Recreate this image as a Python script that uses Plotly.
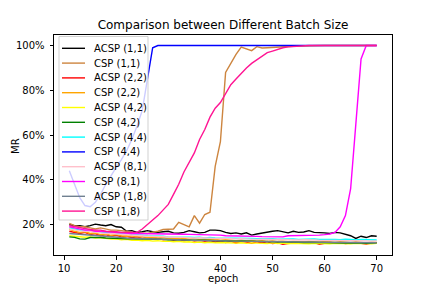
import plotly.graph_objects as go

epochs = list(range(11, 71))

names = ["ACSP (1,1)", "CSP (1,1)", "ACSP (2,2)", "CSP (2,2)", "ACSP (4,2)", "CSP (4,2)",
         "ACSP (4,4)", "CSP (4,4)", "ACSP (8,1)", "CSP (8,1)", "ACSP (1,8)", "CSP (1,8)"]
colors = ["#000000", "#CD853F", "#FF0000", "#FFA500", "#FFFF00", "#008000",
          "#00FFFF", "#0000FF", "#FFC0CB", "#FF00FF", "#708090", "#FF1493"]

acsp_1_1 = [20, 19.5, 19.5, 19, 19.5, 20.2, 19.8, 19.5, 20, 19, 18.8, 17, 17.3, 16.5, 16.8, 17.3, 16.8, 16.5, 16.8, 17,
            16.3, 16.1, 16.5, 17.3, 16.8, 16.3, 16.5, 17.5, 17.5, 17.3, 16.5, 16, 16.3, 15.8, 16.3, 15.3, 15.8, 16.3, 16.6, 17,
            17.3, 16.8, 16.3, 17, 16.5, 16.7, 17.3, 16.5, 16.5, 16.3, 16, 16.5, 16.3, 15.8, 15, 13.8, 14.8, 14.2, 15, 14.8]
csp_1_1 = [20.5, 19.5, 19, 19, 18.5, 18, 18.5, 18, 17.5, 17.5, 17.3, 17, 16.5, 16, 16.2, 16, 16.6, 17, 17.8, 18,
           18, 21, 20, 19, 24, 20.6, 24.5, 25.5, 46, 57, 88, 92, 96, 99.3, 98.5, 97.7, 99.5, 98.9, 99, 99.2,
           99.3, 99.5, 99.6, 99.7, 99.8, 99.9, 100, 100, 100, 100, 100, 100, 100, 100, 100, 100, 100, 100, 100, 100]
acsp_2_2 = [17, 16.5, 16, 16.5, 15.5, 16, 15, 15.5, 14.8, 15.2, 14.5, 14.8, 14.2, 14.5, 13.8, 14.2, 13.5, 13.8, 13.2, 13.5,
            13, 13.4, 12.8, 13.2, 12.6, 13, 12.5, 12.8, 12.2, 12.6, 12, 12.5, 11.8, 12.4, 12.2, 11.6, 12.3, 11.8, 12.4, 11.5,
            11.8, 11.2, 11.5, 12, 11.8, 12.2, 11.6, 12, 11.2, 11.8, 12.1, 11.7, 12, 11.5, 11.8, 12, 11.6, 11.3, 11.7, 11.9]
csp_2_2 = [18, 17, 16.5, 16.8, 16, 16.2, 15.5, 15.8, 15.2, 15.5, 15, 14.8, 15, 14.5, 14.6, 14.2, 14.4, 14, 14.2, 13.8,
           14, 13.6, 13.8, 13.5, 13.7, 13.3, 13.5, 13.2, 13.4, 13, 13.2, 13, 12.8, 13, 12.7, 12.9, 12.6, 12.8, 12.5, 12.7,
           12.4, 12.6, 12.3, 12.5, 12.4, 12.2, 12.5, 12.3, 12.1, 12.4, 12.2, 12, 12.3, 12.1, 11.9, 12.2, 12, 11.8, 12.1, 12]
acsp_4_2 = [15, 14.8, 14.5, 14.3, 14.5, 14, 14.2, 13.8, 13.5, 13.6, 13.2, 13.4, 13, 13.1, 12.8, 13, 12.6, 12.8, 12.5, 12.6,
            12.3, 12.5, 12.2, 12.3, 12, 12.2, 11.9, 12.1, 11.8, 12, 11.8, 11.9, 11.7, 11.9, 11.6, 11.8, 11.6, 11.7, 11.5, 11.8,
            11.5, 11.7, 11.4, 11.6, 11.5, 11.7, 11.4, 11.6, 11.5, 11.7, 11.4, 11.6, 11.5, 11.6, 11.4, 11.6, 11.5, 11.6, 11.4, 11.6]
csp_4_2 = [14.5, 14.3, 13.6, 13.5, 14.2, 14.3, 14.2, 14, 14, 13.8, 13.7, 13.6, 13.6, 13.5, 13.5, 13.4, 13.4, 13.3, 13.4, 13.2,
           13.3, 13.1, 13.2, 13, 13.1, 12.9, 13, 12.9, 12.8, 12.9, 12.7, 12.8, 12.6, 12.7, 12.5, 12.6, 12.5, 12.4, 12.5, 12.3,
           12.4, 12.2, 12.3, 12.1, 12.2, 12, 12.1, 12, 11.9, 12, 11.8, 11.9, 11.8, 11.7, 11.8, 11.6, 11.7, 11.6, 11.7, 11.8]
acsp_4_4 = [18.5, 18, 17.5, 17.5, 17, 16.8, 16.5, 16.5, 16.2, 16, 16, 15.8, 15.5, 15.5, 15.2, 15, 15, 14.8, 14.8, 14.5,
            14.5, 14.6, 14.3, 14.4, 14.2, 14.3, 14, 14.2, 14, 14, 14.1, 13.9, 14, 13.8, 14, 13.8, 13.7, 13.8, 13.6, 13.7,
            13.5, 13.6, 13.5, 13.6, 13.4, 13.5, 13.4, 13.6, 13.3, 13.4, 13.3, 13.4, 13.2, 13.5, 13.3, 13.1, 13.4, 13.2, 13, 13.1]
csp_4_4 = [44, 38, 32, 28.5, 28, 30, 33.5, 38, 42, 45.5, 49, 53, 58, 64, 71, 85, 99, 100, 100, 100,
           100, 100, 100, 100, 100, 100, 100, 100, 100, 100, 100, 100, 100, 100, 100, 100, 100, 100, 100, 100,
           100, 100, 100, 100, 100, 100, 100, 100, 100, 100, 100, 100, 100, 100, 100, 100, 100, 100, 100, 100]
acsp_8_1 = [18, 17.5, 17.2, 17, 17, 16.5, 16.2, 16, 16, 15.8, 15.5, 15.5, 15.2, 15, 15, 14.8, 14.8, 14.6, 14.5, 14.5,
            14.3, 14.4, 14.2, 14.2, 14, 14.1, 13.9, 14, 13.8, 13.9, 13.7, 13.8, 13.6, 13.7, 13.5, 13.6, 13.4, 13.5, 13.4, 13.3,
            13.4, 13.2, 13.3, 13.2, 13.1, 13.2, 13, 13.1, 13, 13, 12.9, 13, 12.8, 12.9, 12.8, 12.7, 12.8, 12.7, 12.6, 12.7]
csp_8_1 = [19, 18.5, 18, 17.5, 17.5, 17, 17, 16.8, 16.5, 16.5, 16.2, 16.2, 16, 16, 16, 16, 16, 16, 15.9, 15.8,
           15.8, 15.7, 15.7, 15.6, 15.6, 15.5, 15.5, 15.4, 15.4, 15.3, 15, 15, 14.9, 14.8, 14.8, 14.7, 14.7, 14.6, 14.5, 14.5,
           14.3, 14.5, 15, 15, 15, 15.2, 15.3, 15.3, 15.3, 15.5, 15.8, 16.5, 19, 24, 36, 65, 94, 100, 100, 100]
acsp_1_8 = [16, 15.8, 15.5, 15.3, 15.1, 15, 14.8, 14.6, 14.5, 14.3, 14.2, 14, 13.9, 13.8, 13.7, 13.6, 13.5, 13.4, 13.4, 13.3,
            13.2, 13.2, 13.1, 13, 13, 12.9, 12.9, 12.8, 12.8, 12.7, 12.7, 12.6, 12.6, 12.6, 12.5, 12.5, 12.5, 12.4, 12.4, 12.4,
            12.3, 12.3, 12.3, 12.2, 12.2, 12.2, 12.2, 12.1, 12.1, 12.1, 12.1, 12, 12, 12, 12, 11.9, 11.9, 11.9, 11.9, 11.9]
csp_1_8 = [19.5, 19, 18.5, 18, 17.8, 17.5, 17.5, 17, 17, 16.8, 16.5, 16.5, 16.8, 16.5, 18, 19.8, 22, 24, 26.5, 29,
           33.5, 38, 43.5, 48, 52, 58, 62.5, 68, 72, 74.5, 78.5, 82.5, 85, 87.5, 90, 92, 93.5, 95, 96.8, 97.5,
           98.3, 99, 99.4, 99.6, 99.8, 99.9, 100, 100, 100, 100, 100, 100, 100, 100, 100, 100, 100, 100, 100, 100]

series = [acsp_1_1, csp_1_1, acsp_2_2, csp_2_2, acsp_4_2, csp_4_2,
          acsp_4_4, csp_4_4, acsp_8_1, csp_8_1, acsp_1_8, csp_1_8]

x_ticks = [10, 20, 30, 40, 50, 60, 70]
y_ticks = [20, 40, 60, 80, 100]
y_tick_labels = ["20%", "40%", "60%", "80%", "100%"]

# The page body adds an 8px offset, so the figure is 8px smaller and everything
# is laid out in window pixels minus that offset.
OFF = 8
W, H = 436 - OFF, 291 - OFF
ML, MR, MT, MB = 54 - OFF, 436 - 392, 35 - OFF, 291 - 255
PW, PH = W - ML - MR, H - MT - MB
FONT = "DejaVu Sans"

fig = go.Figure()
for name, col, vals in zip(names, colors, series):
    fig.add_trace(go.Scatter(x=epochs, y=vals, mode="lines", name=name,
                             line=dict(color=col, width=1.4), showlegend=False))


def px(xw):
    return (xw - OFF - ML) / PW


def py(yw):
    return (H + OFF - MB - yw) / PH


shapes = []
annotations = []
# legend box (drawn like matplotlib's semi-transparent legend)
shapes.append(dict(type="rect", xref="paper", yref="paper", layer="above",
                   x0=px(59), x1=px(148), y0=py(220), y1=py(36.5),
                   fillcolor="rgba(255,255,255,0.8)", line=dict(color="rgba(204,204,204,0.9)", width=1)))
for i, (name, col) in enumerate(zip(names, colors)):
    yy = 48.3 + 14.8 * i
    shapes.append(dict(type="line", xref="paper", yref="paper", layer="above",
                       x0=px(62), x1=px(85), y0=py(yy), y1=py(yy),
                       line=dict(color=col, width=1.4)))
    annotations.append(dict(text=name, xref="paper", yref="paper", x=px(91.5), y=py(yy),
                            xanchor="left", yanchor="middle", showarrow=False,
                            font=dict(family=FONT, size=10, color="black")))

# axis titles
annotations.append(dict(text="epoch", xref="paper", yref="paper", x=px(223), y=py(278),
                        xanchor="center", yanchor="middle", showarrow=False,
                        font=dict(family=FONT, size=10, color="black")))
annotations.append(dict(text="MR", xref="paper", yref="paper", x=px(15), y=py(146),
                        xanchor="center", yanchor="middle", showarrow=False, textangle=-90,
                        font=dict(family=FONT, size=10, color="black")))

fig.update_layout(
    width=W, height=H,
    margin=dict(l=ML, r=MR, t=MT, b=MB, autoexpand=False),
    paper_bgcolor="white", plot_bgcolor="white",
    font=dict(family=FONT, size=10, color="black"),
    title=dict(text="Comparison between Different Batch Size", x=0.5, xref="paper",
               y=1 - (25 - OFF) / H, yref="container", yanchor="middle",
               font=dict(family=FONT, size=12, color="black")),
    shapes=shapes, annotations=annotations,
    xaxis=dict(range=[8.06, 72.94], tickvals=x_ticks, showgrid=False, zeroline=False,
               showline=True, linecolor="black", linewidth=1, mirror=True, automargin=False,
               ticks="outside", ticklen=3.5, tickwidth=0.8, tickcolor="black",
               ticklabelstandoff=0),
    yaxis=dict(range=[6.4, 104.7], tickvals=y_ticks, ticktext=y_tick_labels, showgrid=False,
               zeroline=False, showline=True, linecolor="black", linewidth=1, mirror=True,
               automargin=False,
               ticks="outside", ticklen=3.5, tickwidth=0.8, tickcolor="black",
               ticklabelstandoff=3),
)

fig.write_html("out.html")
